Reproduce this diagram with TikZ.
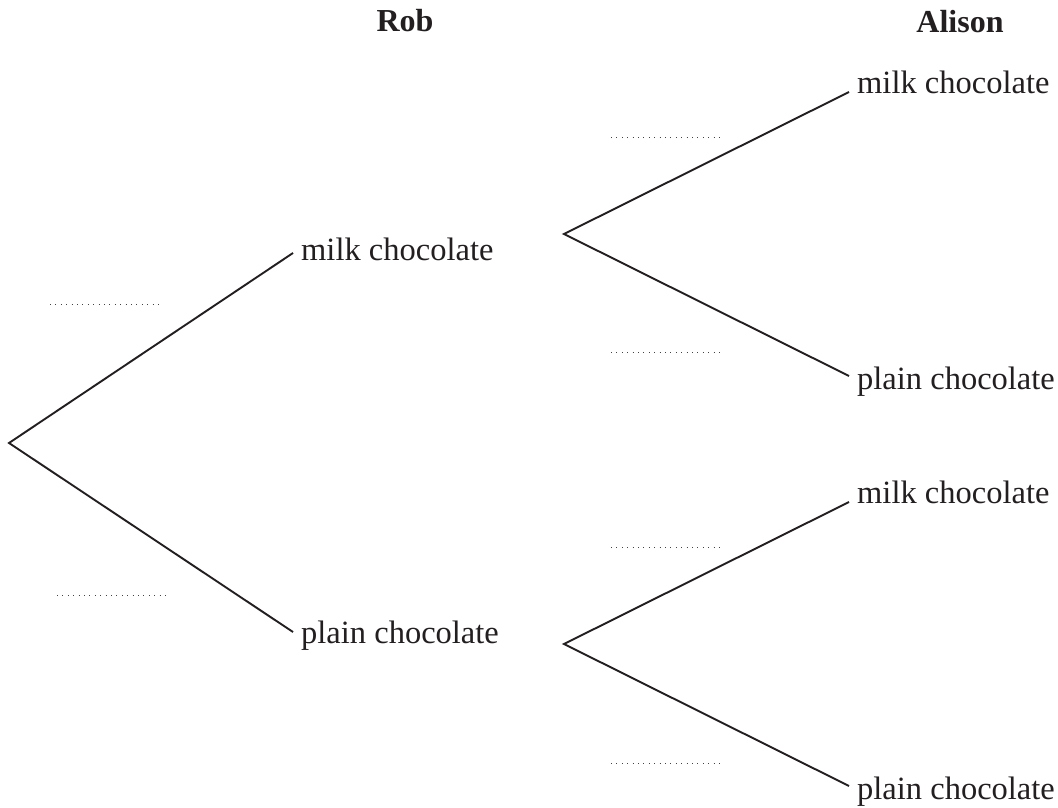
\documentclass[tikz,border=0pt]{standalone}
\usepackage{fontspec}
\setmainfont{Liberation Serif}
\definecolor{ink}{RGB}{35,31,32}
\begin{document}
\begin{tikzpicture}[x=1pt,y=-1pt,
  branch/.style={line width=1.9pt, draw=ink},
  lbl/.style={anchor=base west, inner sep=0pt, font=\fontsize{32.5}{38}\selectfont, text=ink},
  head/.style={anchor=base, inner sep=0pt, font=\fontsize{32}{38}\selectfont\bfseries, text=ink},
  blank/.style={line width=1pt, dash pattern=on 1pt off 4.4pt, draw=ink!85}]
\useasboundingbox (0,0) rectangle (1058,808);
% headers
\node[head] (rob) at (405,32) {Rob};
\node[head] (alison) at (960,33) {Alison};
% points
\coordinate (root) at (9,443);
\coordinate (robM) at (293,253);
\coordinate (robP) at (293,632);
\coordinate (forkM) at (564,234);
\coordinate (forkP) at (564,644);
\coordinate (aMM) at (849,92);
\coordinate (aMP) at (849,376);
\coordinate (aPM) at (849,502);
\coordinate (aPP) at (849,786);
% labels
\node[lbl] (robMt) at (301,260) {milk chocolate};
\node[lbl] (robPt) at (301,643) {plain chocolate};
\node[lbl] (aMMt) at (857,93) {milk chocolate};
\node[lbl] (aMPt) at (857,389) {plain chocolate};
\node[lbl] (aPMt) at (857,503) {milk chocolate};
\node[lbl] (aPPt) at (857,799) {plain chocolate};
% branches
\draw[branch] (robM) -- (root) -- (robP);
\draw[branch] (aMM) -- (forkM) -- (aMP);
\draw[branch] (aPM) -- (forkP) -- (aPP);
% answer blanks
\coordinate (b1) at (50,304);
\coordinate (b2) at (57,595);
\coordinate (b3) at (611,137);
\coordinate (b4) at (611,352);
\coordinate (b5) at (611,547);
\coordinate (b6) at (611,763);
\foreach \b in {b1,b2,b3,b4,b5,b6}
  \draw[blank] (\b) -- ++(110,0);
\end{tikzpicture}
\end{document}
